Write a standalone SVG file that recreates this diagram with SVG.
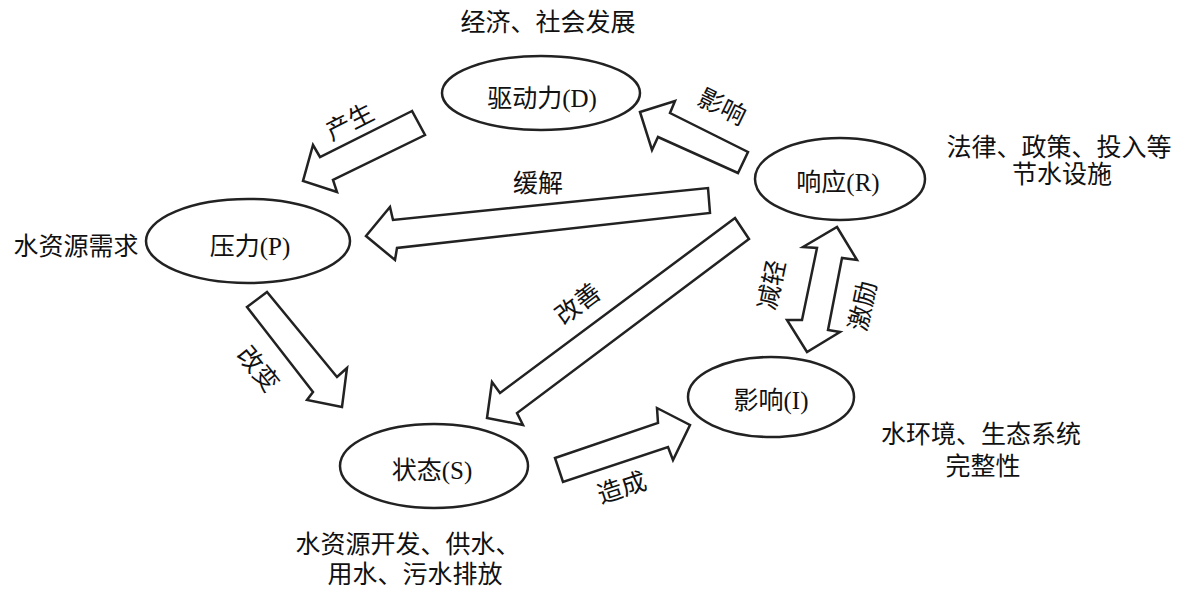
<svg xmlns="http://www.w3.org/2000/svg" width="1185" height="591" viewBox="0 0 1185 591">
<style>
ellipse{fill:#fff;stroke:#222;stroke-width:2.5}
.arr{fill:#fff;stroke:#222;stroke-width:2.5;stroke-linejoin:miter}
text{font-family:"Liberation Serif","Noto Sans CJK SC",serif;font-size:25px;fill:#111;text-anchor:middle;dominant-baseline:central}
</style>
<rect width="1185" height="591" fill="#fff"/>
<g id="connectors">
<polygon class="arr" points="412,111 320,157 313,145 303,181 337,192 333,180 425,135"/>
<polygon class="arr" points="640,112 675,101 670,113 748,152 738,173 658,137 652,150"/>
<polygon class="arr" points="366,236 390,207 393,220 708,188 710,213 397,248 395,260"/>
<polygon class="arr" points="247,307 267,292 337,377 347,368 342,407 307,400 313,392"/>
<polygon class="arr" points="735,218 749,239 517,413 523,425 487,418 492,382 500,393"/>
<polygon class="arr" points="837,227 857,260 842,258 828,330 840,332 807,352 787,320 802,320 817,248 803,247"/>
<polygon class="arr" points="555,458 658,423 657,408 690,425 673,460 668,447 563,482"/>
<text x="350" y="122" transform="rotate(-27 350 122)">产生</text>
<text x="722" y="107" transform="rotate(26 722 107)">影响</text>
<text x="538" y="183">缓解</text>
<text x="258" y="369" transform="rotate(51 258 369)">改变</text>
<text x="578" y="304" transform="rotate(-37 578 304)">改善</text>
<text x="772" y="285" transform="rotate(-78 772 285)">减轻</text>
<text x="863" y="306" transform="rotate(-78 863 306)">激励</text>
<text x="622" y="488" transform="rotate(-18 622 488)">造成</text>
</g>
<g id="node-D">
<ellipse cx="541" cy="93" rx="99" ry="37"/>
<text x="542" y="98">驱动力(D)</text>
<text x="548" y="22">经济、社会发展</text>
</g>
<g id="node-R">
<ellipse cx="840" cy="179" rx="85" ry="41"/>
<text x="838" y="182">响应(R)</text>
<text x="1059" y="147">法律、政策、投入等</text>
<text x="1062" y="174">节水设施</text>
</g>
<g id="node-P">
<ellipse cx="248" cy="241" rx="102" ry="42"/>
<text x="250" y="246">压力(P)</text>
<text x="76" y="246">水资源需求</text>
</g>
<g id="node-I">
<ellipse cx="771" cy="397" rx="83" ry="40"/>
<text x="771" y="400">影响(I)</text>
<text x="981" y="434">水环境、生态系统</text>
<text x="983" y="466">完整性</text>
</g>
<g id="node-S">
<ellipse cx="434" cy="466" rx="94" ry="42"/>
<text x="432" y="470">状态(S)</text>
<text x="408" y="544">水资源开发、供水、</text>
<text x="415" y="574">用水、污水排放</text>
</g>
</svg>
